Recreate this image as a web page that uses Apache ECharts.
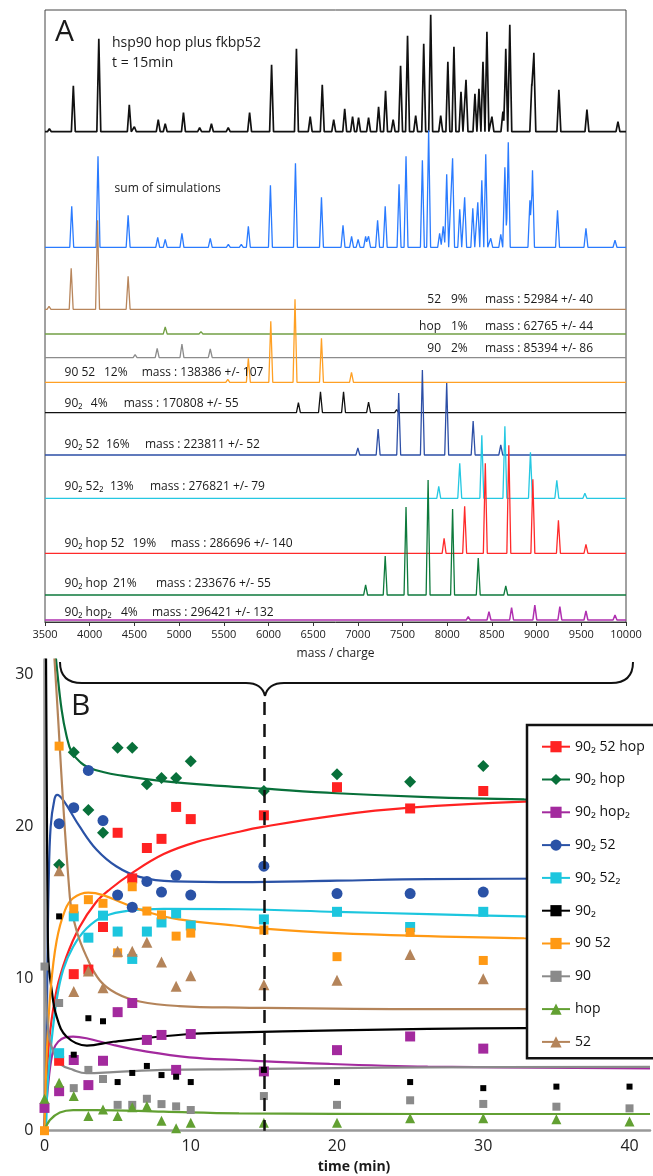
<!DOCTYPE html>
<html><head><meta charset="utf-8">
<script src="https://cdn.jsdelivr.net/npm/echarts@6.0.0/dist/echarts.min.js"></script>
<style>html,body{margin:0;padding:0;background:#fff}#c{width:653px;height:1176px}</style>
</head><body><div id="c"></div>
<script>
// ---------------- Panel A: peak lists [m/z, relative intensity] ----------------
const mzTicks = [3500, 10000, 500];
const peaksExp = [[3549,3],[3817,46],[4102,93],[4443,27],[4500,5],[4767,12],[4845,8],[5049,19],[5230,4],[5362,8],[5550,4],[5789,19],[6035,67],[6313,83],[6467,15],[6602,47],[6730,12],[6853,23],[6941,15],[7008,14],[7120,14],[7232,25],[7310,41],[7395,12],[7478,66],[7556,96],[7647,16],[7737,88],[7815,117],[7927,16],[8007,70],[8075,85],[8154,40],[8210,52],[8310,38],[8355,43],[8400,70],[8444,100],[8500,15],[8623,20],[8655,83],[8700,107],[8946,48],[8969,79],[9249,42],[9563,22],[9910,10]];
const peaksSum = [[3549,2],[3799,41],[4093,91],[4430,32],[4500,2],[4761,10],[4845,8],[5032,14],[5230,2],[5349,9],[5551,3],[5696,3],[5775,21],[6022,62],[6100,2],[6302,84],[6593,50],[6834,22],[6930,11],[7003,8],[7087,11],[7120,11],[7221,27],[7306,41],[7461,63],[7539,91],[7722,87],[7792,117],[7915,14],[7955,21],[7994,73],[8060,89],[8140,38],[8195,50],[8286,39],[8342,45],[8387,67],[8431,93],[8487,9],[8599,13],[8645,80],[8683,105],[8925,47],[8954,77],[9234,37],[9552,19],[9877,7]];
const peaks52 = [[3545,3],[3793,41],[4088,89],[4430,33],[4833,2]];
const peaksHop = [[4500,1.3],[4845,7],[5245,2.3]];
const peaks90 = [[4285,1],[4508,3],[4755,9.3],[5032,13.7],[5349,8.7],[5704,2]];
const peaks90_52 = [[5545,3],[5775,24],[6026,61],[6297,83],[6593,44],[6929,10]];
const peaks90_2 = [[6111,2],[6335,10],[6582,21],[6840,21],[7120,10.7],[7434,3]];
const peaks90_2_52 = [[7000,7],[7227,26],[7457,62],[7722,85],[7994,72],[8290,34],[8599,10]];
const peaks90_2_52_2 = [[7905,12],[8140,35],[8387,63],[8645,72],[8931,46],[9226,18],[9540,5],[9877,1.5]];
const peaks90_2_hop_52 = [[7965,15],[8195,47],[8426,90],[8689,108],[8958,74],[9244,33],[9552,9],[9877,1]];
const peaks90_2_hop = [[7087,10],[7306,39],[7539,88],[7786,115],[8060,86],[8347,37],[8655,9]];
const peaks90_2_hop_2 = [[8235,3.3],[8467,8.3],[8720,12.3],[8980,15],[9260,13.3],[9552,9],[9877,5]];

const labelNames = ['52','hop','90','90 52','90₂','90₂ 52','90₂ 52₂','90₂ hop 52','90₂ hop','90₂ hop₂'];
const labelPcts = ['9%','1%','2%','12%','4%','16%','13%','19%','21%','4%'];
const labelMasses = ['mass : 52984 +/- 40','mass : 62765 +/- 44','mass : 85394 +/- 86','mass : 138386 +/- 107','mass : 170808 +/- 55','mass : 223811 +/- 52','mass : 276821 +/- 79','mass : 286696 +/- 140','mass : 233676 +/- 55','mass : 296421 +/- 132'];

// ---------------- Panel B: measured points and fitted curves ----------------
const legendNames = ['90₂ 52 hop','90₂ hop','90₂ hop₂','90₂ 52','90₂ 52₂','90₂','90 52','90','hop','52'];
const times = [0,1,2,3,4,5,6,7,8,9,10,15,20,25,30,35,40];
const pts90_2_52_hop = [null,4.6,10.3,10.6,13.4,19.6,16.6,18.6,19.2,21.3,20.5,20.75,22.6,21.2,22.35,null,null];
const pts90_2_hop = [null,17.5,24.9,21.1,19.6,25.2,25.2,22.8,23.2,23.2,24.3,22.35,23.45,22.96,24.0,null,null];
const pts90_2_hop_2 = [1.5,2.6,4.65,3.0,4.6,7.8,8.4,5.97,6.3,4.0,6.36,3.9,5.3,6.2,5.4,null,null];
const pts90_2_52 = [null,20.2,21.25,23.7,20.4,15.5,14.7,16.4,15.7,16.8,15.5,17.4,15.6,15.6,15.7,null,null];
const pts90_2_52_2 = [null,5.1,14.1,12.7,14.15,13.1,11.3,13.1,13.7,14.3,13.5,13.9,14.4,13.4,14.4,null,null];
const pts90_2 = [null,14.1,5.0,7.4,7.2,3.2,3.8,4.26,3.66,3.55,3.2,4.0,3.2,3.2,2.8,2.9,2.9];
const pts90_52 = [0,25.3,14.6,15.2,14.96,11.7,16.05,14.45,14.2,12.8,13.0,13.2,11.45,13.05,11.2,null,null];
const pts90 = [10.8,8.4,2.8,4.0,3.4,1.7,1.7,2.1,1.75,1.6,1.36,2.28,1.7,2.0,1.76,1.58,1.47];
const ptsHop = [2.1,3.16,2.28,0.97,1.4,0.97,1.54,1.62,0.66,0.16,0.53,0.53,0.53,0.82,0.82,0.75,0.6];
const pts52 = [null,17.1,9.15,10.5,9.4,11.8,11.8,12.4,11.1,9.5,10.2,9.6,9.9,11.6,10.0,null,null];

const fit90_2_52_hop = [[0,0],[0.15,3.55],[0.37,6.4],[0.83,9.26],[1.5,11.45],[2.4,13.4],[3.5,15.0],[4.5,15.9],[5.9,16.9],[8.15,18.2],[10.4,19.0],[13,19.6],[15,20.0],[20,20.75],[25,21.25],[32.8,21.65],[41.4,21.85]];
const fit90_2_hop = [[0.7,32],[0.83,30.6],[1.17,27.7],[1.5,26.0],[1.86,24.9],[2.5,24.2],[3.0,23.9],[4.0,23.6],[5.0,23.4],[8.1,23.0],[12.6,22.65],[15,22.5],[20,22.2],[26.2,21.95],[32.8,21.8],[41.4,21.7]];
const fit90_2_hop_2 = [[0,0],[0.3,3.5],[0.6,5.3],[0.94,5.86],[1.4,6.14],[1.96,6.19],[2.87,6.08],[4.7,5.64],[7.0,5.2],[9.9,4.83],[13.3,4.65],[19.5,4.39],[26.2,4.22],[41.4,4.1]];
const fit90_2_52 = [[0,0],[0.12,4],[0.2,11],[0.28,16],[0.42,20],[0.68,21.8],[0.87,22.1],[1.28,21.75],[2.41,20],[3.55,18.5],[4.9,17.4],[6.5,16.7],[8.8,16.4],[13.3,16.35],[20,16.45],[26.2,16.55],[41.4,16.6]];
const fit90_2_52_2 = [[0,0],[0.1,0.2],[0.19,2.7],[0.42,5.3],[0.83,8.6],[1.28,10.6],[1.96,12.1],[2.87,13.3],[4.0,14.08],[5.9,14.5],[8.15,14.6],[13.3,14.57],[20,14.4],[26.2,14.25],[32.8,14.1],[41.4,14.0]];
const fit90_2 = [[0.1,32],[0.17,20],[0.2,15.8],[0.26,11.4],[0.49,9.26],[0.83,7.5],[1.5,6.2],[2.9,5.6],[4.7,5.85],[9.9,6.36],[12.6,6.45],[20,6.6],[26.2,6.7],[32.8,6.75],[41.4,6.8]];
const fit90_52 = [[0,0],[0.15,4.9],[0.42,9.3],[0.83,12.5],[1.4,14.5],[1.96,15.3],[3.0,15.66],[4.0,15.5],[5.4,14.96],[7.0,14.4],[9.2,13.9],[13,13.5],[15,13.3],[20,13.0],[26.2,12.8],[32.8,12.66],[41.4,12.6]];
const fit90 = [[0,11],[0.15,8],[0.35,6],[0.7,5.0],[1.05,4.4],[1.96,4.0],[2.87,3.78],[4.7,3.85],[8.15,4.0],[13.3,4.05],[20,4.12],[26.2,4.17],[41.4,4.2]];
const fitHop = [[0,0],[0.37,0.7],[1.05,1.2],[1.96,1.36],[3.5,1.36],[8.15,1.25],[13.3,1.14],[26.2,1.1],[41.4,1.1]];
const fit52 = [[0.6,32.3],[0.71,30.6],[1.73,15.4],[2.18,13.2],[2.87,11.45],[3.77,9.9],[4.9,9.04],[6.5,8.5],[9.2,8.2],[13.3,8.1],[26.2,8.0],[41.4,8.0]];
const markTime = 15;

// ---------------- build ----------------
const FONT = '"Open Sans","Noto Sans","DejaVu Sans",sans-serif';
const chart = echarts.init(document.getElementById('c'), null, {renderer: 'canvas'});

const HW = 22;
function spectrum(peaks) {
  const xs = [mzTicks[0], mzTicks[1]];
  peaks.forEach(p => xs.push(p[0] - HW, p[0], p[0] + HW));
  xs.sort((a, b) => a - b);
  return xs.map(x => {
    let v = 0;
    peaks.forEach(p => { const d = Math.abs(x - p[0]); if (d < HW) v = Math.max(v, p[1] * (1 - d / HW)); });
    return [x, v];
  });
}

const traces = [
  {p: peaksExp, c: '#111111', base: 131.7, w: 1.7},
  {p: peaksSum, c: '#2a7bff', base: 247.3, w: 1.3},
  {p: peaks52, c: '#b8865c', base: 309.3, w: 1.3},
  {p: peaksHop, c: '#73a045', base: 334, w: 1.3},
  {p: peaks90, c: '#8c8c8c', base: 357.7, w: 1.3},
  {p: peaks90_52, c: '#ffa024', base: 382.3, w: 1.3},
  {p: peaks90_2, c: '#111111', base: 412.7, w: 1.3},
  {p: peaks90_2_52, c: '#2d4fa6', base: 455, w: 1.3},
  {p: peaks90_2_52_2, c: '#25c8e2', base: 498.3, w: 1.3},
  {p: peaks90_2_hop_52, c: '#ff2a2a', base: 553.3, w: 1.3},
  {p: peaks90_2_hop, c: '#0e7a3c', base: 595, w: 1.3},
  {p: peaks90_2_hop_2, c: '#b030b0', base: 620, w: 1.5}
];

const grids = [{left: 45, right: 27, top: 10, bottom: 554, show: true, borderColor: '#444', borderWidth: 1}];
const xAxes = [{
  gridIndex: 0, type: 'value', min: mzTicks[0], max: mzTicks[1], interval: mzTicks[2],
  axisLine: {lineStyle: {color: '#333', width: 1}},
  axisTick: {show: true, length: 4, lineStyle: {color: '#333'}},
  axisLabel: {fontSize: 11, color: '#222', margin: 7, fontFamily: FONT, formatter: v => String(v)},
  splitLine: {show: false},
  name: 'mass / charge', nameLocation: 'middle', nameGap: 26,
  nameTextStyle: {fontSize: 12, color: '#222', fontFamily: FONT}
}];
const yAxes = [{gridIndex: 0, type: 'value', min: 0, max: 1, show: false}];
const series = [];

traces.forEach((t, i) => {
  const gi = i + 1;
  grids.push({left: 45, right: 27, bottom: 1176 - t.base, height: 120});
  xAxes.push({gridIndex: gi, type: 'value', min: mzTicks[0], max: mzTicks[1], show: false});
  yAxes.push({gridIndex: gi, type: 'value', min: 0, max: 120, show: false});
  series.push({
    name: 'spec' + i, type: 'line', xAxisIndex: gi, yAxisIndex: gi,
    data: spectrum(t.p), showSymbol: false, symbol: 'none', clip: false,
    lineStyle: {color: t.c, width: t.w}, silent: true, z: 2
  });
});

// Panel B
const gB = grids.length;
grids.push({left: 44.5, right: 0, top: 659.5, bottom: 45.3});
const tick10 = v => (Math.abs(v % 10) < 1e-9 ? String(v) : '');
xAxes.push({
  gridIndex: gB, type: 'value', min: 0, max: 41.4, interval: 10,
  axisLine: {lineStyle: {color: '#999', width: 2.5}}, axisTick: {show: false},
  axisLabel: {fontSize: 16, color: '#222', margin: 8, formatter: tick10, fontFamily: FONT},
  splitLine: {show: false}
});
yAxes.push({
  gridIndex: gB, type: 'value', min: 0, max: 31, interval: 10,
  axisLine: {show: true, lineStyle: {color: '#999', width: 2.5}}, axisTick: {show: false},
  axisLabel: {fontSize: 16, color: '#222', margin: 11, formatter: tick10, fontFamily: FONT},
  splitLine: {show: false}
});

const species = [
  {n: legendNames[0], c: '#ff2222', s: 'rect', z: 10, pts: pts90_2_52_hop, fit: fit90_2_52_hop},
  {n: legendNames[1], c: '#08703a', s: 'diamond', z: 12, pts: pts90_2_hop, fit: fit90_2_hop},
  {n: legendNames[2], c: '#a32a9e', s: 'rect', z: 10, pts: pts90_2_hop_2, fit: fit90_2_hop_2},
  {n: legendNames[3], c: '#2a52a6', s: 'circle', z: 11, pts: pts90_2_52, fit: fit90_2_52},
  {n: legendNames[4], c: '#1cc6de', s: 'rect', z: 10, pts: pts90_2_52_2, fit: fit90_2_52_2},
  {n: legendNames[5], c: '#000000', s: 'rect', z: 6, pts: pts90_2, fit: fit90_2},
  {n: legendNames[6], c: '#ff9914', s: 'rect', z: 9, pts: pts90_52, fit: fit90_52},
  {n: legendNames[7], c: '#8a8a8a', s: 'rect', z: 8, pts: pts90, fit: fit90},
  {n: legendNames[8], c: '#62a032', s: 'triangle', z: 10, pts: ptsHop, fit: fitHop},
  {n: legendNames[9], c: '#b4845a', s: 'triangle', z: 11, pts: pts52, fit: fit52}
];

species.forEach((sp, i) => {
  const s = {
    name: sp.n, type: 'line', xAxisIndex: gB, yAxisIndex: gB, data: sp.fit,
    symbol: sp.s, showSymbol: false, smooth: 0.4,
    lineStyle: {color: sp.c, width: 2.2}, itemStyle: {color: sp.c}, z: 2, silent: true
  };
  if (i === 0) {
    s.markLine = {
      silent: true, symbol: ['none', 'none'], label: {show: false}, animation: false,
      lineStyle: {color: '#111', width: 2.5, type: [13, 9]},
      data: [[{coord: [markTime, 28.2]}, {coord: [markTime, 0]}]]
    };
  }
  series.push(s);
});
species.forEach(sp => {
  const d = [];
  times.forEach((t, k) => { if (sp.pts[k] !== null) d.push([t, sp.pts[k]]); });
  series.push({
    name: sp.n, type: 'scatter', xAxisIndex: gB, yAxisIndex: gB, data: d,
    symbol: sp.s, symbolSize: sp.z, itemStyle: {color: sp.c, opacity: 1}, z: 4, silent: true
  });
});

// Graphic texts
const gfx = [];
function txt(x, y, text, size, align, weight) {
  gfx.push({type: 'text', x: x, y: y, silent: true, z: 50,
    style: {text: text, fill: '#1a1a1a', font: (weight || 'normal') + ' ' + size + 'px ' + FONT,
      align: align || 'left', verticalAlign: 'middle', textAlign: align || 'left', textVerticalAlign: 'middle'}});
}
txt(55, 32, 'A', 30);
txt(112, 43, 'hsp90 hop plus fkbp52', 14);
txt(112, 63, 't = 15min', 14);
txt(114.6, 188.3, 'sum of simulations', 12);
const rightY = [300, 326.7, 348.3];
for (let i = 0; i < 3; i++) {
  txt(441, rightY[i], labelNames[i], 12, 'right');
  txt(451, rightY[i], labelPcts[i], 12);
  txt(485, rightY[i], labelMasses[i], 12);
}
const leftY = [372.7, 403.3, 445, 486.7, 543.3, 584, 612.3];
const pctX = [104, 90.8, 106, 110, 132.5, 113, 121];
const massX = [141.7, 123.75, 145, 150, 170.8, 156, 152];
for (let j = 0; j < 7; j++) {
  const i = j + 3;
  txt(64.6, leftY[j], labelNames[i], 12);
  txt(pctX[j], leftY[j], labelPcts[i], 12);
  txt(massX[j], leftY[j], labelMasses[i], 12);
}
txt(71, 706.5, 'B', 30);
txt(354, 1167, 'time (min)', 14, 'center', 'bold');
// curly brace
const braceStyle = {stroke: '#111', fill: null, lineWidth: 2};
function bez(x1, y1, cx, cy, x2, y2) {
  gfx.push({type: 'bezierCurve', silent: true, z: 50, shape: {x1: x1, y1: y1, cpx1: cx, cpy1: cy, x2: x2, y2: y2}, style: braceStyle});
}
function seg(x1, y1, x2, y2) {
  gfx.push({type: 'line', silent: true, z: 50, shape: {x1: x1, y1: y1, x2: x2, y2: y2}, style: braceStyle});
}
bez(60, 662, 60, 683, 82, 683);
seg(82, 683, 246, 683);
bez(246, 683, 262, 683, 265, 696);
bez(265, 696, 268, 683, 284, 683);
seg(284, 683, 611, 683);
bez(611, 683, 633, 683, 633, 662);

chart.setOption({
  animation: false,
  backgroundColor: '#fff',
  textStyle: {fontFamily: FONT},
  grid: grids, xAxis: xAxes, yAxis: yAxes, series: series,
  legend: {
    orient: 'vertical', left: 527, top: 725, padding: [14.7, 24, 9.3, 14],
    itemWidth: 28, itemHeight: 14, itemGap: 18.8, selectedMode: false,
    backgroundColor: '#fff', borderColor: '#111', borderWidth: 2.5,
    textStyle: {fontSize: 14, lineHeight: 14, color: '#111', fontFamily: FONT},
    data: legendNames
  },
  graphic: gfx
});
</script></body></html>
